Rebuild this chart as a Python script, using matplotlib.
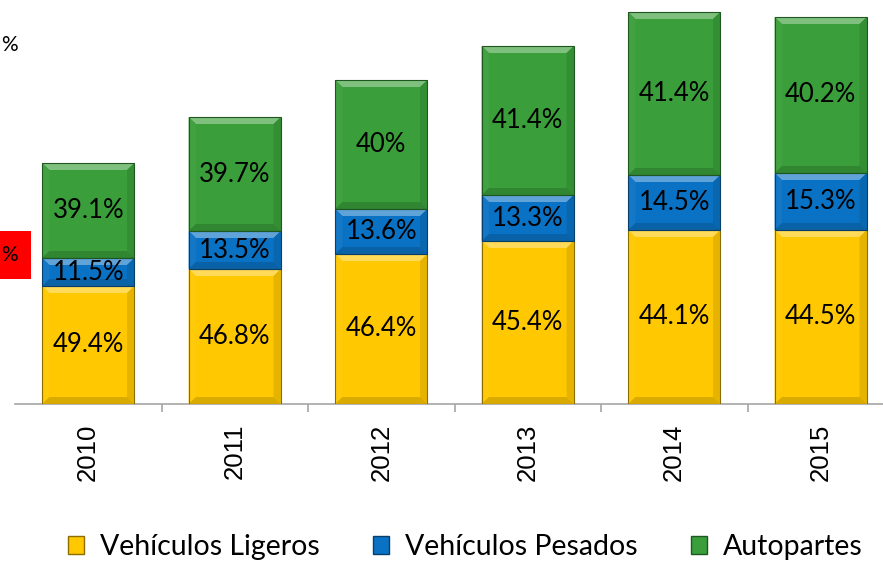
import matplotlib.pyplot as plt
import numpy as np
from matplotlib.patches import Polygon, Patch
from matplotlib.colors import to_rgb

YEARS = ["2010", "2011", "2012", "2013", "2014", "2015"]
SERIES = ["Vehículos Ligeros", "Vehículos Pesados", "Autopartes"]
# segment heights (arbitrary units)
LIGEROS = [118, 135, 150, 163, 174, 174]
PESADOS = [28, 38, 45, 46, 55, 57]
AUTOPARTES = [95, 114, 129, 149, 163, 156]
# shares printed on the segments
LIGEROS_LBL = ["49.4%", "46.8%", "46.4%", "45.4%", "44.1%", "44.5%"]
PESADOS_LBL = ["11.5%", "13.5%", "13.6%", "13.3%", "14.5%", "15.3%"]
AUTOPARTES_LBL = ["39.1%", "39.7%", "40%", "41.4%", "41.4%", "40.2%"]

COLORS = ["#FFC800", "#0A72C4", "#3A9E3A"]
LABEL_FONT = ["Lato", "DejaVu Sans"]


def shade(color, f):
    r, g, b = to_rgb(color)
    if f >= 0:
        return (r + (1 - r) * f, g + (1 - g) * f, b + (1 - b) * f)
    return (r * (1 + f), g * (1 + f), b * (1 + f))


def beveled_bar(ax, x, bottom, height, width, color, bx, by):
    x0, x1 = x - width / 2, x + width / 2
    y0, y1 = bottom, bottom + height
    by = min(by, height / 3)
    ax.add_patch(Polygon([(x0, y0), (x1, y0), (x1, y1), (x0, y1)], closed=True,
                         facecolor=color, edgecolor="none", zorder=2))
    # top bevel
    ax.add_patch(Polygon([(x0, y1), (x1, y1), (x1 - bx, y1 - by), (x0 + bx, y1 - by)],
                         closed=True, facecolor=shade(color, 0.35), edgecolor="none", zorder=3))
    # left bevel
    ax.add_patch(Polygon([(x0, y0), (x0 + bx, y0 + by), (x0 + bx, y1 - by), (x0, y1)],
                         closed=True, facecolor=shade(color, 0.04), edgecolor="none", zorder=3))
    # right bevel
    ax.add_patch(Polygon([(x1, y0), (x1 - bx, y0 + by), (x1 - bx, y1 - by), (x1, y1)],
                         closed=True, facecolor=shade(color, -0.1), edgecolor="none", zorder=3))
    # bottom bevel
    ax.add_patch(Polygon([(x0, y0), (x1, y0), (x1 - bx, y0 + by), (x0 + bx, y0 + by)],
                         closed=True, facecolor=shade(color, -0.15), edgecolor="none", zorder=3))
    ax.add_patch(Polygon([(x0, y0), (x1, y0), (x1, y1), (x0, y1)], closed=True,
                         facecolor="none", edgecolor=shade(color, -0.45), lw=0.8, zorder=4))


def main():
    fig = plt.figure(figsize=(8.83, 5.62), dpi=100)
    ax = fig.add_axes([15 / 883, 158 / 562, 879 / 883, 404 / 562])

    x = np.arange(len(YEARS))
    width = 0.63
    values = [LIGEROS, PESADOS, AUTOPARTES]
    labels = [LIGEROS_LBL, PESADOS_LBL, AUTOPARTES_LBL]
    bottoms = np.zeros(len(YEARS))
    for vals, lbls, color in zip(values, labels, COLORS):
        for i, (v, lbl) in enumerate(zip(vals, lbls)):
            beveled_bar(ax, x[i], bottoms[i], v, width, color, 0.05, 7)
            ax.text(x[i], bottoms[i] + v / 2, lbl, ha="center", va="center",
                    fontsize=18.5, family=LABEL_FONT, color="black", zorder=5)
        bottoms += np.array(vals)

    ax.set_xlim(-0.5, len(YEARS) - 0.5)
    ax.set_ylim(0, 404)
    for s in ["top", "right", "left"]:
        ax.spines[s].set_visible(False)
    ax.spines["bottom"].set_color("#A6A6A6")
    ax.spines["bottom"].set_linewidth(1.2)
    ax.set_yticks([])
    ax.set_xticks(x)
    ax.set_xticklabels(YEARS, rotation=90, fontsize=18.5, family="Liberation Sans")
    ax.tick_params(axis="x", which="major", length=0, pad=14)
    ax.set_xticks(x[:-1] + 0.5, minor=True)
    ax.tick_params(axis="x", which="minor", length=6, width=1.2, color="#A6A6A6")

    # pieces of the (cropped) axis labels at the left edge
    fig.text(0.001, 1 - 45 / 562, "%", fontsize=15, family=LABEL_FONT, ha="left", va="center")
    fig.text(0.001, 1 - 255 / 562, "%", fontsize=15, family=LABEL_FONT, ha="left", va="center",
             bbox=dict(boxstyle="square,pad=0.65", facecolor="#FF0000", edgecolor="none"))

    handles = [Patch(facecolor=c, edgecolor=shade(c, -0.45), label=s) for c, s in zip(COLORS, SERIES)]
    fig.legend(handles=handles, loc="center", bbox_to_anchor=(0.527, 1 - 547 / 562), ncol=3,
               frameon=False, prop={"family": LABEL_FONT, "size": 20.5}, handlelength=0.55,
               handleheight=0.6, handletextpad=0.55, columnspacing=1.9, borderaxespad=0)

    fig.savefig("out.png", dpi=100)


if __name__ == "__main__":
    main()
